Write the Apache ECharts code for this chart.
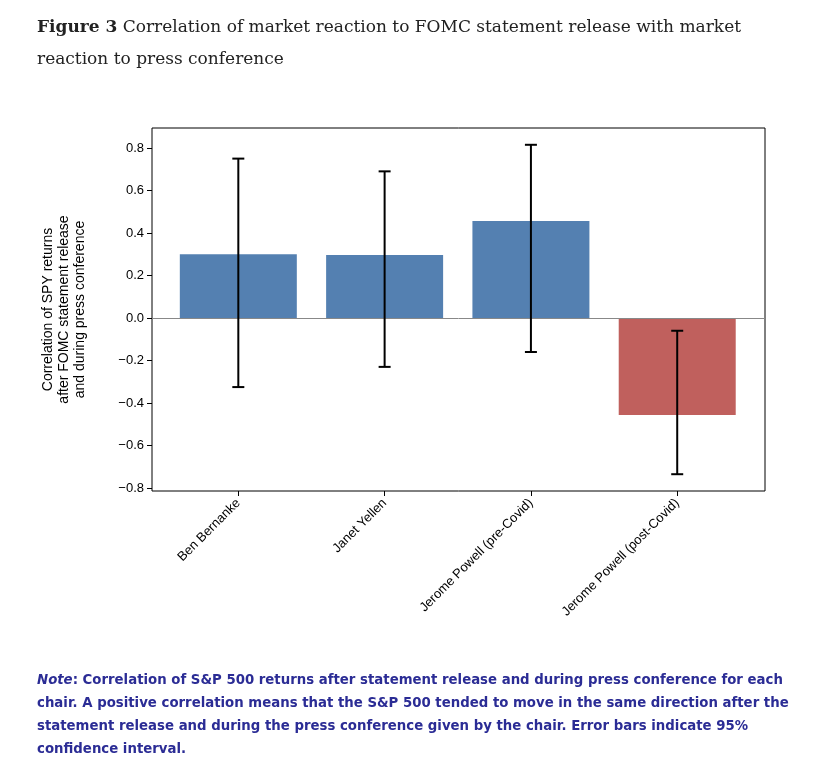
<!DOCTYPE html>
<html><head><meta charset="utf-8">
<script src="https://cdn.jsdelivr.net/npm/echarts@6/dist/echarts.min.js"></script>
<style>
body{margin:0;width:825px;height:777px;background:#fff;position:relative;overflow:hidden}
#title{position:absolute;left:37px;top:10px;width:760px;font-family:"DejaVu Serif","Liberation Serif",serif;font-size:17px;line-height:32px;color:#222}
#note{position:absolute;left:37px;top:668px;width:760px;font-family:"DejaVu Sans","Liberation Sans",sans-serif;font-weight:bold;font-size:13.3px;line-height:23px;color:#2b2c95}
#c{position:absolute;left:0;top:0;width:825px;height:777px}
</style></head><body>
<div id="c"></div>
<div id="title"><b>Figure 3</b> Correlation of market reaction to FOMC statement release with market reaction to press conference</div>
<div id="note"><i>Note</i>: Correlation of S&amp;P 500 returns after statement release and during press conference for each chair. A positive correlation means that the S&amp;P 500 tended to move in the same direction after the statement release and during the press conference given by the chair. Error bars indicate 95% confidence interval.</div>
<script>
const categories=["Ben Bernanke","Janet Yellen","Jerome Powell (pre-Covid)","Jerome Powell (post-Covid)"];
const values=[0.30,0.296,0.456,-0.456];
const errLow=[-0.325,-0.23,-0.16,-0.735];
const errHigh=[0.75,0.69,0.815,-0.06];
const yTicks=[-0.8,-0.6,-0.4,-0.2,0,0.2,0.4,0.6,0.8];
const blue="#5480b1",red="#c0605d";
const ch=echarts.init(document.getElementById('c'));
const f="Liberation Sans, Arial, sans-serif";
ch.setOption({
 animation:false,
 grid:{left:152,right:60,top:128,height:363,show:true,borderColor:"#000",borderWidth:1},
 xAxis:{type:'value',min:-0.59,max:3.6,splitLine:{show:false},axisLine:{show:false,onZero:false},
  axisTick:{show:true,customValues:[0,1,2,3],length:5,lineStyle:{color:'#000'}},
  axisLabel:{customValues:[0,1,2,3],rotate:45,fontFamily:f,fontSize:13,color:'#000',formatter:v=>categories[Math.round(v)],margin:10}},
 yAxis:{type:'value',min:-0.814,max:0.894,splitLine:{show:false},axisLine:{show:false,onZero:false},
  axisTick:{show:true,customValues:yTicks,length:5,lineStyle:{color:'#000'}},
  axisLabel:{customValues:yTicks,fontFamily:f,fontSize:13,color:'#000',formatter:v=>(v<0?'\u2212':'')+Math.abs(v).toFixed(1)},
  name:"Correlation of SPY returns\nafter FOMC statement release\nand during press conference",
  nameLocation:'middle',nameRotate:90,nameGap:64,nameTextStyle:{fontFamily:f,fontSize:14,color:'#000',lineHeight:16}},
 series:[
  {type:'bar',barWidth:117,data:values.map((v,i)=>({value:[i,v],itemStyle:{color:v<0?red:blue}})),
   markLine:{silent:true,symbol:'none',label:{show:false},lineStyle:{color:'#888',type:'solid',width:1},data:[{yAxis:0}]}},
  {type:'custom',data:errLow.map((l,i)=>[i,l,errHigh[i]]),z:5,
   renderItem:(p,api)=>{const a=api.coord([api.value(0),api.value(1)]),b=api.coord([api.value(0),api.value(2)]);const s={stroke:'#000',lineWidth:2};
    return {type:'group',children:[{type:'line',shape:{x1:a[0],y1:a[1],x2:b[0],y2:b[1]},style:s},
     {type:'line',shape:{x1:a[0]-6,y1:a[1],x2:a[0]+6,y2:a[1]},style:s},{type:'line',shape:{x1:b[0]-6,y1:b[1],x2:b[0]+6,y2:b[1]},style:s}]};}}
 ]
});
</script></body></html>
